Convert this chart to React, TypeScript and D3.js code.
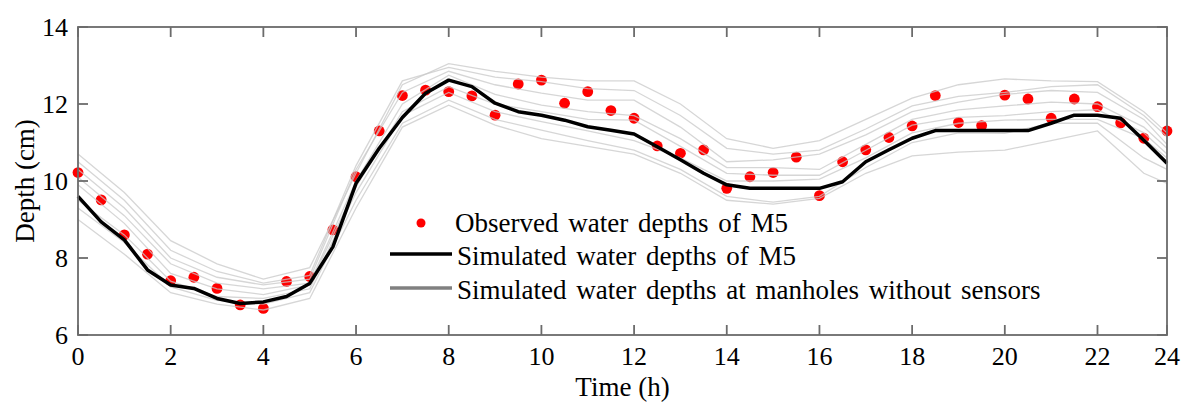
import * as d3 from 'd3';
import { useRef, useEffect } from "react"

// half-hour time steps (h)
const halfHours = d3.range(0, 24, 0.5)

// observed water depths of M5 (cm)
const observed = [10.22, 9.51, 8.60, 8.10, 7.41, 7.50, 7.21, 6.78, 6.69, 7.39, 7.52, 8.73,
    10.11, 11.30, 12.22, 12.36, 12.32, 12.21, 11.71, 12.52, 12.62, 12.02, 12.32, 11.83,
    11.63, 10.91, 10.72, 10.81, 9.81, 10.11, 10.22, 10.62, 9.62, 10.50, 10.81, 11.13,
    11.43, 12.22, 11.52, 11.44, 12.23, 12.13, 11.63, 12.13, 11.93, 11.51, 11.11, 11.30]

// simulated water depths of M5 (cm)
const simulatedM5 = [9.60, 8.94, 8.47, 7.69, 7.30, 7.21, 6.95, 6.82, 6.86, 7.00, 7.34, 8.29,
    9.94, 10.85, 11.65, 12.28, 12.62, 12.45, 12.02, 11.80, 11.71, 11.58, 11.41, 11.32,
    11.22, 10.89, 10.55, 10.20, 9.90, 9.81, 9.81, 9.81, 9.81, 9.98, 10.50, 10.81,
    11.11, 11.31, 11.31, 11.31, 11.31, 11.31, 11.50, 11.71, 11.71, 11.63, 11.06, 10.46]

// manholes without sensors, sampled hourly
const hours = [0, 1, 2, 3, 4, 5, 6, 7, 8, 9, 10, 11, 12, 13, 14, 15, 16, 17, 18, 19, 20, 21, 22, 23, 23.5]
const manholeA = [10.7, 9.7, 8.45, 7.85, 7.45, 7.75, 10.2, 12.5, 13.05, 12.85, 12.7, 12.6, 12.6, 12.0, 11.1, 10.85, 11.05, 11.6, 12.15, 12.5, 12.65, 12.6, 12.58, 11.8, 11.25]
const manholeB = [10.5, 9.5, 8.2, 7.65, 7.35, 7.55, 10.4, 12.6, 12.95, 12.7, 12.58, 12.4, 12.35, 11.7, 10.85, 10.7, 10.8, 11.35, 11.95, 12.2, 12.3, 12.45, 12.5, 11.7, 11.15]
const manholeC = [10.3, 9.3, 8.0, 7.5, 7.3, 7.45, 10.3, 12.3, 12.85, 12.5, 12.28, 12.1, 12.1, 11.4, 10.5, 10.55, 10.7, 11.2, 11.8, 12.05, 12.25, 12.35, 12.3, 11.6, 10.95]
const manholeD = [10.1, 9.1, 7.85, 7.35, 7.2, 7.35, 10.0, 12.0, 12.75, 12.25, 11.97, 11.8, 11.7, 11.1, 10.35, 10.35, 10.3, 10.95, 11.6, 11.85, 11.95, 12.05, 12.0, 11.4, 10.85]
const manholeE = [9.9, 8.9, 7.6, 7.2, 7.05, 7.3, 9.85, 11.8, 12.45, 12.0, 11.8, 11.6, 11.58, 10.9, 10.2, 10.15, 10.15, 10.8, 11.45, 11.65, 11.7, 11.8, 11.85, 11.25, 10.7]
const manholeF = [9.5, 8.6, 7.4, 7.0, 6.95, 7.2, 9.7, 11.7, 12.3, 11.8, 11.54, 11.3, 11.05, 10.6, 10.0, 10.0, 10.05, 10.6, 11.25, 11.5, 11.58, 11.6, 11.6, 11.1, 10.6]
const manholeG = [9.3, 8.4, 7.25, 6.9, 6.8, 7.1, 9.5, 11.5, 12.1, 11.6, 11.32, 11.05, 10.8, 10.3, 9.6, 9.45, 9.6, 10.35, 11.0, 11.25, 11.24, 11.5, 11.5, 10.6, 10.3]
const manholeH = [9.0, 8.1, 7.1, 6.8, 6.65, 6.95, 9.3, 11.4, 11.97, 11.45, 11.1, 10.9, 10.7, 10.2, 9.5, 9.4, 9.55, 10.2, 10.65, 10.75, 10.8, 11.05, 11.3, 10.2, 9.94]
const manholes = [manholeA, manholeB, manholeC, manholeD, manholeE, manholeF, manholeG, manholeH]

const xTickValues = [0, 2, 4, 6, 8, 10, 12, 14, 16, 18, 20, 22, 23.5]
const xTickLabels = ['0', '2', '4', '6', '8', '10', '12', '14', '16', '18', '20', '22', '24']
const yTickValues = [6, 8, 10, 12, 14]

const legendLabels = [
    'Observed water depths of M5',
    'Simulated water depths of M5',
    'Simulated water depths at manholes without sensors',
]

function App() {
    const ref = useRef<SVGSVGElement | null>(null)

    useEffect(() => {
        renderChart();
    }, [])

    function renderChart() {
        const W = 1189, H = 403
        const left = 78, right = 1167, top = 27, bottom = 335
        const font = '"Liberation Serif", "Times New Roman", serif'
        const axisColor = '#6b6b6b'

        const svg = d3.select(ref.current!)
        svg.selectAll('*').remove()
        svg.attr('width', W).attr('height', H)

        const x = d3.scaleLinear().domain([0, 23.5]).range([left, right])
        const y = d3.scaleLinear().domain([6, 14]).range([bottom, top])

        // observed dots (drawn first, the gray lines run over them)
        svg.append('g')
            .selectAll('circle')
            .data(observed)
            .enter()
            .append('circle')
            .attr('cx', (_d, i) => x(halfHours[i]))
            .attr('cy', d => y(d))
            .attr('r', 5.4)
            .style('fill', '#ff0000')

        const hourLine = d3.line<number>()
            .x((_d, i) => x(hours[i]))
            .y(d => y(d))

        svg.append('g')
            .selectAll('path')
            .data(manholes)
            .enter()
            .append('path')
            .attr('d', d => hourLine(d))
            .attr('fill', 'none')
            .attr('stroke', '#c8c8c8')
            .attr('stroke-opacity', 0.75)
            .attr('stroke-width', 1.3)

        const halfLine = d3.line<number>()
            .x((_d, i) => x(halfHours[i]))
            .y(d => y(d))

        svg.append('path')
            .attr('d', halfLine(simulatedM5))
            .attr('fill', 'none')
            .attr('stroke', '#000')
            .attr('stroke-width', 3.5)
            .attr('stroke-linejoin', 'round')

        // box + inward ticks
        const tickLen = 10
        const axisG = svg.append('g').attr('stroke', axisColor).attr('stroke-width', 1.8)
        axisG.append('rect')
            .attr('x', left).attr('y', top)
            .attr('width', right - left).attr('height', bottom - top)
            .attr('fill', 'none')
        xTickValues.forEach(v => {
            axisG.append('line').attr('x1', x(v)).attr('x2', x(v)).attr('y1', bottom).attr('y2', bottom - tickLen)
            axisG.append('line').attr('x1', x(v)).attr('x2', x(v)).attr('y1', top).attr('y2', top + tickLen)
        })
        yTickValues.forEach(v => {
            axisG.append('line').attr('x1', left).attr('x2', left + tickLen).attr('y1', y(v)).attr('y2', y(v))
            axisG.append('line').attr('x1', right).attr('x2', right - tickLen).attr('y1', y(v)).attr('y2', y(v))
        })

        // tick labels
        svg.append('g')
            .selectAll('text')
            .data(xTickValues)
            .enter()
            .append('text')
            .attr('x', d => x(d))
            .attr('y', 365)
            .attr('text-anchor', 'middle')
            .style('font-family', font)
            .style('font-size', '26px')
            .text((_d, i) => xTickLabels[i])

        svg.append('g')
            .selectAll('text')
            .data(yTickValues)
            .enter()
            .append('text')
            .attr('x', left - 10)
            .attr('y', d => y(d) + 9)
            .attr('text-anchor', 'end')
            .style('font-family', font)
            .style('font-size', '26px')
            .text(d => String(d))

        // axis titles
        svg.append('text')
            .attr('x', (left + right) / 2)
            .attr('y', 396)
            .attr('text-anchor', 'middle')
            .style('font-family', font)
            .style('font-size', '27px')
            .text('Time (h)')

        svg.append('text')
            .attr('transform', `translate(34, ${(top + bottom) / 2}) rotate(-90)`)
            .attr('text-anchor', 'middle')
            .style('font-family', font)
            .style('font-size', '27px')
            .text('Depth (cm)')

        // legend
        const legend = svg.append('g')
        legend.append('circle').attr('cx', 421).attr('cy', 223).attr('r', 4.5).style('fill', '#ff0000')
        legend.append('line').attr('x1', 390).attr('x2', 452).attr('y1', 254).attr('y2', 254)
            .attr('stroke', '#000').attr('stroke-width', 3.5)
        legend.append('line').attr('x1', 390).attr('x2', 452).attr('y1', 288).attr('y2', 288)
            .attr('stroke', '#808080').attr('stroke-width', 3.5)
        const textX = [455, 457, 457]
        const textY = [232, 265, 299]
        legend.selectAll('text')
            .data(legendLabels)
            .enter()
            .append('text')
            .attr('x', (_d, i) => textX[i])
            .attr('y', (_d, i) => textY[i])
            .style('font-family', font)
            .style('font-size', '27px')
            .style('word-spacing', '3px')
            .text(d => d)
    }

    return (
        <svg
            ref={ref}
            style={{ position: 'absolute', left: 0, top: 0, background: '#fff' }}
        />
    )
}

export default App;
